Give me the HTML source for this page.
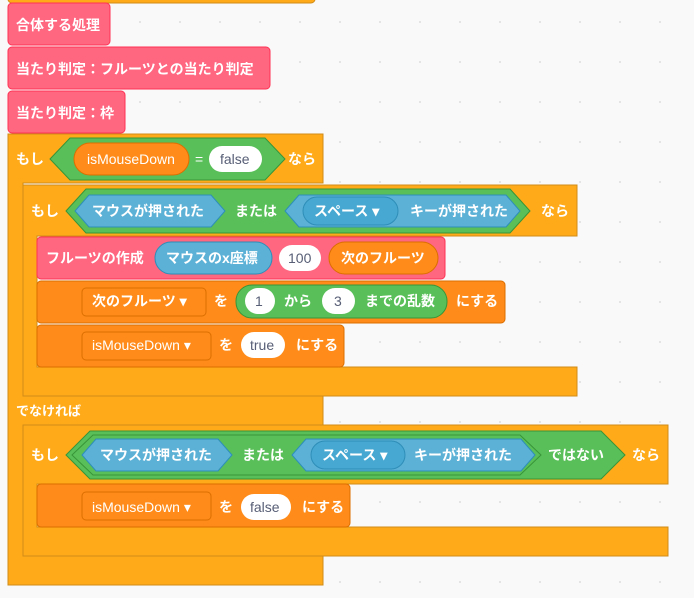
<!DOCTYPE html>
<html><head><meta charset="utf-8"><style>
html,body{margin:0;padding:0;background:#F9F9F9;}
svg{display:block;}
text{font-family:"Liberation Sans","Noto Sans CJK JP",sans-serif;font-size:14px;dominant-baseline:central;}
.w{fill:#fff;font-weight:bold;}
.n{fill:#fff;}
.g{fill:#575E75;}
</style></head><body>
<svg width="694" height="598" viewBox="0 0 694 598" xmlns="http://www.w3.org/2000/svg">
<defs><pattern id="d" width="40" height="40" patternUnits="userSpaceOnUse"><circle cx="20" cy="22" r="1" fill="#ddd"/></pattern></defs>
<rect width="694" height="598" fill="#F9F9F9"/>
<rect width="694" height="598" fill="url(#d)"/>

<!-- top remnant -->
<rect x="8" y="-6" width="307" height="9" rx="4" fill="#FFAB19" stroke="#CF8B17"/>

<!-- outer if C -->
<path d="M8,134 H323 V183 H23 V396 H323 V425 H23 V556 H323 V585 H8 Z" fill="#FFAB19" stroke="#CF8B17"/>
<!-- inner if 1 -->
<path d="M23,185 H577 V236 H37 V367 H577 V396 H23 Z" fill="#FFAB19" stroke="#CF8B17"/>
<!-- inner if 2 -->
<path d="M23,425 H668 V484 H37 V527 H668 V556 H23 Z" fill="#FFAB19" stroke="#CF8B17"/>

<!-- pink blocks -->
<rect x="8" y="3" width="102" height="42" rx="4" fill="#FF6680" stroke="#FF3355"/>
<text x="16" y="25" class="w">合体する処理</text>
<rect x="8" y="47" width="262" height="42" rx="4" fill="#FF6680" stroke="#FF3355"/>
<text x="16" y="69" class="w">当たり判定：フルーツとの当たり判定</text>
<rect x="8" y="91" width="117" height="42" rx="4" fill="#FF6680" stroke="#FF3355"/>
<text x="16" y="113" class="w">当たり判定：枠</text>

<!-- row1 -->
<text x="16" y="159" class="w">もし</text>
<polygon points="50,159 70,138 265,138 285,159 265,180 70,180" fill="#59C059" stroke="#389438"/>
<rect x="74" y="143" width="115" height="32" rx="16" fill="#FF8C1A" stroke="#DB6E00"/>
<text x="87" y="159" class="n">isMouseDown</text>
<text x="195" y="159" class="n">=</text>
<rect x="209" y="146" width="53" height="26" rx="13" fill="#fff"/>
<text x="220" y="159" class="g">false</text>
<text x="288" y="159" class="w">なら</text>

<!-- row2 -->
<text x="31" y="211" class="w">もし</text>
<polygon points="66,211 86,189 510,189 530,211 510,233 86,233" fill="#59C059" stroke="#389438"/>
<polygon points="75,211 89,195 211,195 225,211 211,227 89,227" fill="#5CB1D6" stroke="#2E8EB8"/>
<text x="92" y="211" class="w">マウスが押された</text>
<text x="235" y="211" class="w">または</text>
<polygon points="285,211 299,195 506,195 520,211 506,227 299,227" fill="#5CB1D6" stroke="#2E8EB8"/>
<rect x="303" y="197" width="95" height="28" rx="14" fill="#47A8D1" stroke="#2E8EB8"/>
<text x="314" y="211" class="w">スペース ▾</text>
<text x="410" y="211" class="w">キーが押された</text>
<text x="541" y="211" class="w">なら</text>

<!-- row3 -->
<rect x="37" y="237" width="408" height="42" rx="4" fill="#FF6680" stroke="#FF3355"/>
<text x="46" y="258" class="w">フルーツの作成</text>
<rect x="155" y="242" width="117" height="32" rx="16" fill="#5CB1D6" stroke="#2E8EB8"/>
<text x="166" y="258" class="w">マウスのx座標</text>
<rect x="279" y="245" width="42" height="26" rx="13" fill="#fff"/>
<text x="288" y="258" class="g">100</text>
<rect x="329" y="242" width="109" height="32" rx="16" fill="#FF8C1A" stroke="#DB6E00"/>
<text x="341" y="258" class="w">次のフルーツ</text>

<!-- row4 -->
<rect x="37" y="281" width="468" height="42" rx="4" fill="#FF8C1A" stroke="#DB6E00"/>
<rect x="82" y="288" width="124" height="28" rx="4" fill="#FF8C1A" stroke="#DB6E00"/>
<text x="92" y="301" class="w">次のフルーツ ▾</text>
<text x="214" y="301" class="w">を</text>
<rect x="236" y="285" width="211" height="33" rx="16" fill="#59C059" stroke="#389438"/>
<rect x="245" y="288" width="30" height="26" rx="13" fill="#fff"/>
<text x="255" y="301" class="g">1</text>
<text x="284" y="301" class="w">から</text>
<rect x="322" y="288" width="33" height="26" rx="13" fill="#fff"/>
<text x="334" y="301" class="g">3</text>
<text x="365" y="301" class="w">までの乱数</text>
<text x="456" y="301" class="w">にする</text>

<!-- row5 -->
<rect x="37" y="325" width="307" height="42" rx="4" fill="#FF8C1A" stroke="#DB6E00"/>
<rect x="82" y="332" width="129" height="28" rx="4" fill="#FF8C1A" stroke="#DB6E00"/>
<text x="92" y="345" class="n">isMouseDown ▾</text>
<text x="219" y="345" class="w">を</text>
<rect x="241" y="332" width="44" height="26" rx="13" fill="#fff"/>
<text x="250" y="345" class="g">true</text>
<text x="296" y="345" class="w">にする</text>

<text x="16" y="411" class="w" style="font-size:13px">でなければ</text>

<!-- row7 -->
<text x="31" y="455" class="w">もし</text>
<polygon points="66,455 90,431 601,431 625,455 601,479 90,479" fill="#59C059" stroke="#389438"/>
<polygon points="72,455 93,435 520,435 541,455 520,475 93,475" fill="#59C059" stroke="#389438"/>
<polygon points="82,455 96,439 218,439 232,455 218,471 96,471" fill="#5CB1D6" stroke="#2E8EB8"/>
<text x="100" y="455" class="w">マウスが押された</text>
<text x="242" y="455" class="w">または</text>
<polygon points="292,455 306,439 521,439 535,455 521,471 306,471" fill="#5CB1D6" stroke="#2E8EB8"/>
<rect x="311" y="441" width="94" height="28" rx="14" fill="#47A8D1" stroke="#2E8EB8"/>
<text x="322" y="455" class="w">スペース ▾</text>
<text x="414" y="455" class="w">キーが押された</text>
<text x="548" y="455" class="w">ではない</text>
<text x="632" y="455" class="w">なら</text>

<!-- row8 -->
<rect x="37" y="484" width="313" height="43" rx="4" fill="#FF8C1A" stroke="#DB6E00"/>
<rect x="82" y="492" width="129" height="28" rx="4" fill="#FF8C1A" stroke="#DB6E00"/>
<text x="92" y="507" class="n">isMouseDown ▾</text>
<text x="219" y="507" class="w">を</text>
<rect x="241" y="494" width="50" height="26" rx="13" fill="#fff"/>
<text x="250" y="507" class="g">false</text>
<text x="302" y="507" class="w">にする</text>
</svg>
</body></html>
